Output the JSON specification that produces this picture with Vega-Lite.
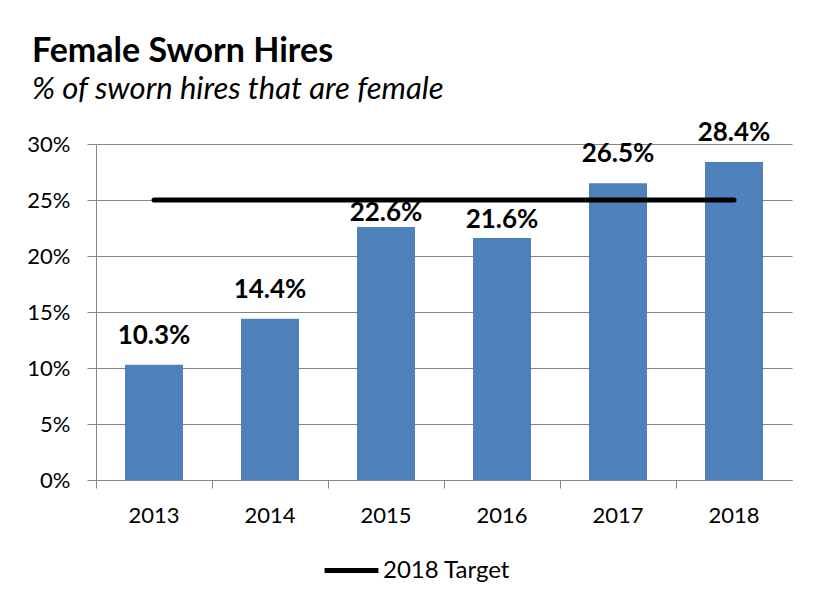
{
  "$schema": "https://vega.github.io/schema/vega-lite/v6.json",
  "width": 696,
  "height": 336,
  "autosize": "none",
  "padding": {"left": 96, "top": 144, "right": 33, "bottom": 127},
  "background": "white",
  "title": {
    "text": "Female Sworn Hires",
    "subtitle": "% of sworn hires that are female",
    "anchor": "start",
    "frame": "group",
    "dx": -64,
    "offset": 15,
    "font": "Lato",
    "fontSize": 34,
    "fontWeight": "bold",
    "color": "#000000",
    "subtitleFont": "Lato",
    "subtitleFontSize": 31,
    "subtitleFontStyle": "italic",
    "subtitleColor": "#000000",
    "subtitlePadding": 6
  },
  "config": {
    "view": {"stroke": null},
    "font": "Lato",
    "axis": {
      "labelFont": "Lato",
      "labelFontSize": 22,
      "labelColor": "#000000",
      "domainColor": "#868686",
      "tickColor": "#868686",
      "gridColor": "#868686",
      "domainWidth": 1,
      "gridWidth": 1,
      "tickWidth": 1
    }
  },
  "data": {
    "values": [
      {"year": "2013", "pct": 0.103, "target": 0.25, "series": "2018 Target"},
      {"year": "2014", "pct": 0.144, "target": 0.25, "series": "2018 Target"},
      {"year": "2015", "pct": 0.226, "target": 0.25, "series": "2018 Target"},
      {"year": "2016", "pct": 0.216, "target": 0.25, "series": "2018 Target"},
      {"year": "2017", "pct": 0.265, "target": 0.25, "series": "2018 Target"},
      {"year": "2018", "pct": 0.284, "target": 0.25, "series": "2018 Target"}
    ]
  },
  "encoding": {
    "x": {
      "field": "year",
      "type": "ordinal",
      "scale": {"paddingInner": 0, "paddingOuter": 0},
      "axis": {
        "title": null,
        "labelAngle": 0,
        "bandPosition": 0,
        "labelOffset": 0,
        "tickSize": 8,
        "labelPadding": 17,
        "grid": false
      }
    }
  },
  "layer": [
    {
      "mark": {"type": "bar", "color": "#4F81BD", "width": {"band": 0.5}},
      "encoding": {
        "y": {
          "field": "pct",
          "type": "quantitative",
          "scale": {"domain": [0, 0.3], "nice": false},
          "axis": {
            "title": null,
            "format": ".0%",
            "values": [0, 0.05, 0.1, 0.15, 0.2, 0.25, 0.3],
            "tickSize": 9,
            "labelPadding": 17,
            "grid": true
          }
        }
      }
    },
    {
      "transform": [{"filter": {"field": "year", "oneOf": ["2013", "2014", "2017", "2018"]}}],
      "mark": {"type": "text", "baseline": "alphabetic", "dy": -21, "font": "Lato", "fontSize": 26, "fontWeight": "bold", "color": "#000000"},
      "encoding": {
        "y": {"field": "pct", "type": "quantitative"},
        "text": {"field": "pct", "type": "quantitative", "format": ".1%"}
      }
    },
    {
      "transform": [{"filter": {"field": "year", "equal": "2015"}}],
      "mark": {"type": "text", "baseline": "alphabetic", "dy": -6, "font": "Lato", "fontSize": 26, "fontWeight": "bold", "color": "#000000"},
      "encoding": {
        "y": {"field": "pct", "type": "quantitative"},
        "text": {"field": "pct", "type": "quantitative", "format": ".1%"}
      }
    },
    {
      "transform": [{"filter": {"field": "year", "equal": "2016"}}],
      "mark": {"type": "text", "baseline": "alphabetic", "dy": -10, "font": "Lato", "fontSize": 26, "fontWeight": "bold", "color": "#000000"},
      "encoding": {
        "y": {"field": "pct", "type": "quantitative"},
        "text": {"field": "pct", "type": "quantitative", "format": ".1%"}
      }
    },
    {
      "mark": {"type": "line", "strokeWidth": 5, "strokeCap": "round"},
      "encoding": {
        "y": {"field": "target", "type": "quantitative"},
        "stroke": {
          "field": "series",
          "type": "nominal",
          "scale": {"range": ["#000000"]},
          "legend": {
            "title": null,
            "orient": "none",
            "legendX": 226,
            "legendY": 397,
            "symbolType": "stroke",
            "symbolSize": 2900,
            "symbolStrokeWidth": 5,
            "symbolStrokeColor": "#000000",
            "labelFont": "Lato",
            "labelFontSize": 24,
            "labelColor": "#000000",
            "labelOffset": 2
          }
        }
      }
    }
  ]
}
